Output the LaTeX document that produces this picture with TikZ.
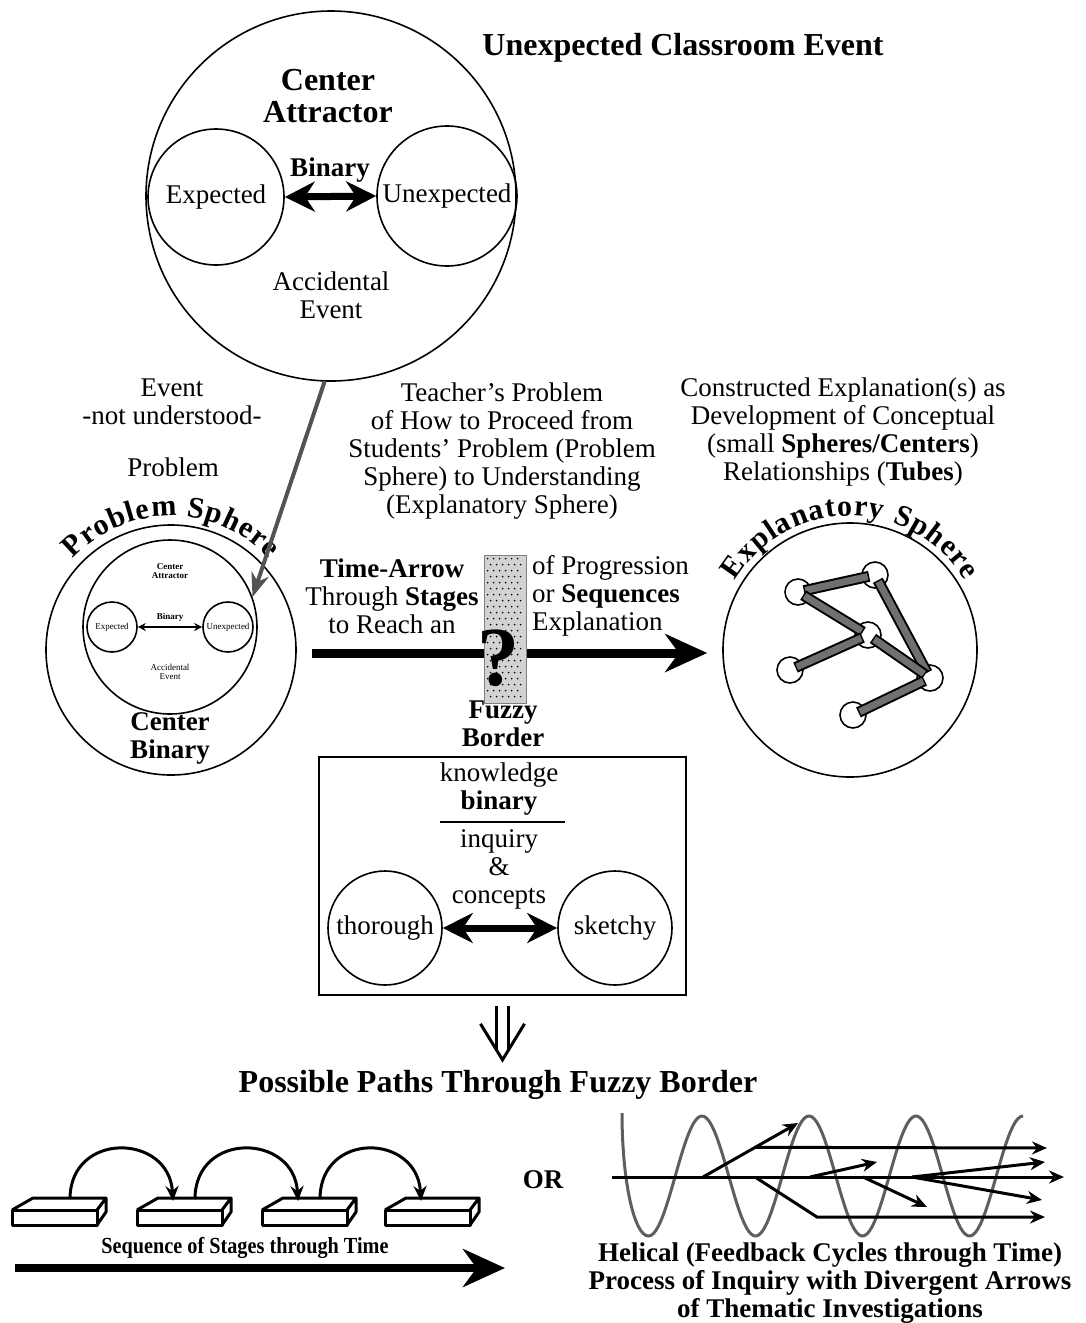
\documentclass[tikz,border=0pt]{standalone}
\usepackage{fontspec}
\setmainfont{Liberation Serif}
\newfontfamily\condfont[FakeStretch=0.88]{Liberation Serif}
\usetikzlibrary{arrows.meta,positioning,calc,decorations.text}
\newcommand{\bodyfont}{\fontsize{27}{28}\selectfont}
\newcommand{\headfont}{\fontsize{32}{32}\selectfont\bfseries}
\newcommand{\tinyfont}{\fontsize{9}{9.5}\selectfont}
\newcommand{\arcfont}{\fontsize{30}{30}\selectfont\bfseries}
\definecolor{arrgray}{HTML}{575151}
\definecolor{tubegray}{HTML}{707070}
\definecolor{helixgray}{HTML}{5E5E5E}
\definecolor{fuzzgray}{HTML}{D2D2D2}
\tikzset{
  txt/.style={font=\bodyfont, align=center, inner sep=0pt},
  hd/.style={font=\headfont, align=center, inner sep=0pt},
  ring/.style={draw, circle, line width=1.6pt, inner sep=0pt},
  knot/.style={ring, fill=white, minimum size=26pt},
  dbl/.style={{Stealth[length=30pt,width=30pt]}-{Stealth[length=30pt,width=30pt]}, line width=7pt},
  fat/.style={-{Stealth[length=42pt,width=38pt]}, line width=9pt},
  arr/.style={-{Stealth[length=15pt,width=13pt]}, line width=3pt},
  slab/.style={line width=3pt, line join=round},
}

\begin{document}
\begin{tikzpicture}[x=1pt,y=-1pt]
  \useasboundingbox (0,0) rectangle (1085,1323);
  \node[ring, minimum size=370pt] (top) at (331,196) {};
  \node[hd] (catt) at (328,96) {Center\\Attractor};
  \node[ring, minimum size=136pt, font=\bodyfont] (expd) at (216,197) {Expected};
  \node[ring, minimum size=140pt, font=\bodyfont] (unexpd) at (447,196) {Unexpected};
  \node[txt, font=\bodyfont\bfseries] (bin) at (330,170) {Binary};
  \draw[dbl] (expd.east) -- (unexpd.west);
  \node[txt] (acc) at (331,295) {Accidental\\Event};
  \node[hd] (uce) at (683,48) {Unexpected Classroom Event};

  \node[txt] (evt) at (172,402) {Event\\-not understood-};
  \node[txt] (prob) at (173,467) {Problem};
  \node[txt] (teach) at (502,451) {Teacher's Problem\\of How to Proceed from\\Students' Problem (Problem\\Sphere) to Understanding\\(Explanatory Sphere)};
  \node[txt] (constr) at (843,432) {Constructed Explanation(s) as\\Development of Conceptual\\(small \textbf{Spheres/Centers})\\Relationships (\textbf{Tubes})};

  \node[ring, minimum size=250pt] (ps) at (171,650) {};
  \node[ring, minimum size=174pt] (pin) at (170,627) {};
  \node[ring, minimum size=50pt, font=\tinyfont] (pexp) at (112,627) {Expected};
  \node[ring, minimum size=50pt, font=\tinyfont] (punexp) at (228,627) {Unexpected};
  \draw[{Stealth[length=8pt,width=8pt]}-{Stealth[length=8pt,width=8pt]}, line width=1.6pt] (pexp.east) -- (punexp.west);
  \node[inner sep=0pt, align=center, font=\tinyfont\bfseries] (patt) at (170,571) {Center\\Attractor};
  \node[inner sep=0pt, font=\tinyfont\bfseries] (pbin) at (170,617) {Binary};
  \node[inner sep=0pt, align=center, font=\tinyfont] (pacc) at (170,672) {Accidental\\Event};
  \node[txt, font=\bodyfont\bfseries] (cb) at (170,738) {Center\\Binary};
  \path[decorate, decoration={text along path, text align=fit to path,
    text={|\arcfont|Problem Sphere}}]
    ($(ps)+(137:134pt)$) arc[start angle=137, end angle=43, radius=134pt];
  \draw[-{Stealth[length=24pt,width=18pt]}, line width=4pt, arrgray] (top.268) -- (pin.20);

  \node[ring, minimum size=254pt] (es) at (850,650) {};
  \path[decorate, decoration={text along path, text align=fit to path,
    text={|\arcfont|Explanatory Sphere}}]
    ($(es)+(149:134pt)$) arc[start angle=149, end angle=31, radius=134pt];
  \foreach \n/\p in {1/{798,592},2/{875,575},3/{868,635},4/{790,670},5/{930,678},6/{853,715}}
    \node[knot] (k\n) at (\p) {};
  \foreach \a/\b in {1/2,1/3,2/5,3/5,3/4,5/6} {
    \draw[line width=11pt, shorten <=6pt, shorten >=6pt] (k\a.center) -- (k\b.center);
    \draw[tubegray, line width=7pt, shorten <=7.5pt, shorten >=7.5pt] (k\a.center) -- (k\b.center);
  }

  \draw[fat] ([xshift=15pt,yshift=-3pt]ps.east) -- ([xshift=-15pt,yshift=-3pt]es.west);
  \node[draw=gray, fill=fuzzgray, line width=0.8pt, minimum width=42pt, minimum height=148pt, inner sep=0pt] (fz) at (505,629) {};
  \foreach \i in {0,...,5}
    \foreach \j in {0,...,23}
      \fill ($(fz.north west)+({4+6*\i+3*mod(\j,2)},{4+6*\j})$) circle (0.9pt);
  \node[inner sep=0pt, font=\fontsize{84}{84}\selectfont\bfseries] (qm) at (498,658) {?};
  \node[txt] (tal) at (392,596) {\textbf{Time-Arrow}\\Through \textbf{Stages}\\to Reach an};
  \node[txt, align=left, anchor=west] (tar) at (532,596) {of Progression\\or \textbf{Sequences}\\Explanation};
  \node[txt, font=\bodyfont\bfseries] (fb) at (503,724) {Fuzzy\\Border};

  \node[draw, line width=1.6pt, minimum width=367pt, minimum height=238pt, inner sep=0pt] (kbox) at (502.5,876) {};
  \node[txt] (kn) at (499,789) {knowledge\\\textbf{binary}};
  \draw[line width=1.6pt] (440,822) -- (565,822);
  \node[txt] (inq) at (499,869) {inquiry\\\&\\concepts};
  \node[ring, minimum size=114pt, font=\bodyfont] (thor) at (385,928) {thorough};
  \node[ring, minimum size=114pt, font=\bodyfont] (sk) at (615,928) {sketchy};
  \draw[dbl] (thor.east) -- (sk.west);

  \coordinate (da) at ([yshift=-10pt]kbox.south);
  \draw[line width=3pt] ($(da)+(-6,0)$) -- ($(da)+(-6,45)$) ($(da)+(6,0)$) -- ($(da)+(6,45)$);
  \draw[line width=3pt, line join=miter] ($(da)+(-22,18)$) -- ($(da)+(0,54)$) -- ($(da)+(22,18)$);
  \node[hd] (pp) at (498,1085) {Possible Paths Through Fuzzy Border};

  \foreach \i/\x in {1/12,2/137,3/262,4/385} {
    \draw[slab] (\x,1210) rectangle ++(85,15);
    \draw[slab] (\x,1210) -- ++(21,-12) -- ++(73,0) -- ++(-9,12) ++(9,-12) -- ++(0,14) -- ++(-9,13);
    \coordinate (so\i) at ({\x+58},1199);
    \coordinate (si\i) at ({\x+36},1201);
  }
  \foreach \a/\b in {1/2,2/3,3/4}
    \draw[arr] (so\a) .. controls ($(so\a)+(0,-68)$) and ($(si\b)+(-4,-68)$) .. (si\b);
  \node[inner sep=0pt, font=\condfont\fontsize{23}{23}\selectfont\bfseries] (seq) at (245,1248) {Sequence of Stages through Time};
  \coordinate (tl) at (15,1268);
  \coordinate (tr) at (505,1268);
  \draw[fat, line width=8pt] (tl) -- (tr);
  \node[txt, font=\bodyfont\bfseries] (or) at (543,1180) {OR};

  \draw[helixgray, line width=3pt] (622,1113) .. controls (622,1180) and (634,1236) .. (648.5,1236)
    -- plot[domain=648.5:1023, samples=150] (\x,{1176-60*cos((\x-702)/107*360)});
  \coordinate (h0) at (612,1177);
  \coordinate (h1) at (1064,1177);
  \draw[arr] (h0) -- (h1);
  \coordinate (ha) at (703,1177);
  \coordinate (hat) at (798,1123);
  \coordinate (hb) at ($(ha)!0.55!(hat)$);
  \coordinate (hbt) at (1047,1148);
  \coordinate (hc) at (755,1177);
  \coordinate (hc1) at (817,1217);
  \coordinate (hct) at (1045,1217);
  \coordinate (hd) at (810,1177);
  \coordinate (hdt) at (877,1162);
  \coordinate (he) at (863,1177);
  \coordinate (het) at (927,1207);
  \coordinate (hf) at (912,1177);
  \coordinate (hft) at (1045,1162);
  \coordinate (hgt) at (1042,1200);
  \draw[arr] (ha) -- (hat);
  \draw[arr] (hb) -- (hbt);
  \draw[arr] (hc) -- (hc1) -- (hct);
  \draw[arr] (hd) -- (hdt);
  \draw[arr] (he) -- (het);
  \draw[arr] (hf) -- (hft);
  \draw[arr] (hf) -- (hgt);
  \node[txt, font=\bodyfont\bfseries] (cap) at (830,1283) {Helical (Feedback Cycles through Time)\\Process of Inquiry with Divergent Arrows\\of Thematic Investigations};
\end{tikzpicture}
\end{document}
